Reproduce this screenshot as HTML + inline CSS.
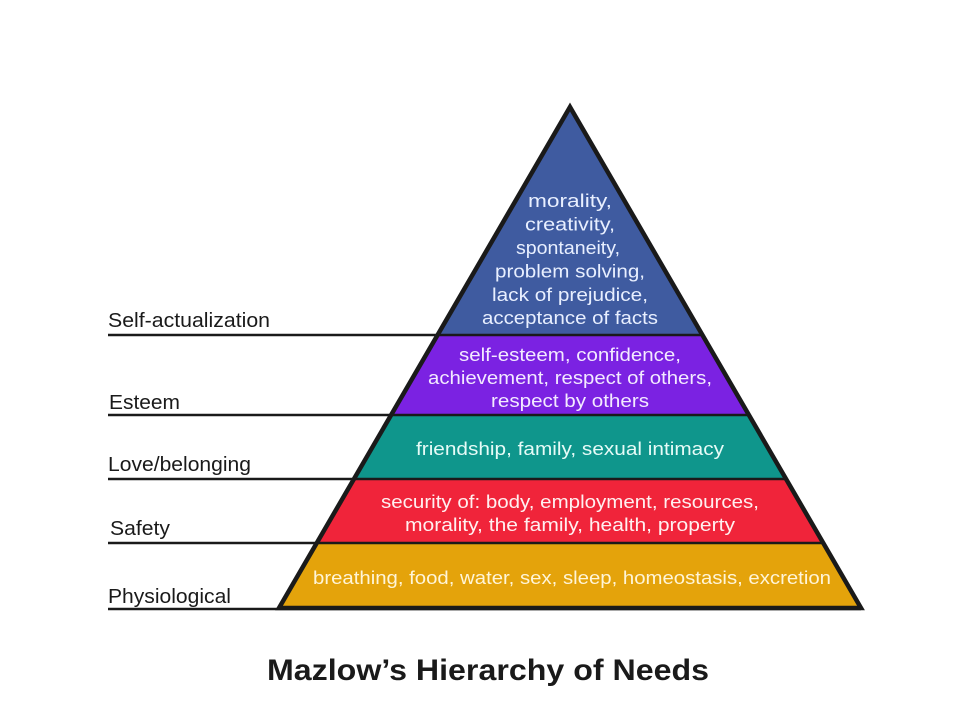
<!DOCTYPE html>
<html><head><meta charset="utf-8"><style>
html,body{margin:0;padding:0;background:#fff;width:960px;height:720px;overflow:hidden}
svg{display:block}
.t{font-family:"Liberation Sans",sans-serif;font-size:18px;text-anchor:middle}
.l{font-family:"Liberation Sans",sans-serif;font-size:20.5px;fill:#1a1a1a}
</style></head><body>
<svg width="960" height="720" viewBox="0 0 960 720">
<polygon points="570,107 702,335 438,335" fill="#3f5ba0"/>
<polygon points="438,335 702,335 749,415 391,415" fill="#7b22e2"/>
<polygon points="391,415 749,415 786,479 354,479" fill="#0f968c"/>
<polygon points="354,479 786,479 823,543 317,543" fill="#f0243a"/>
<polygon points="317,543 823,543 861,608 279,608" fill="#e4a30b"/>
<g stroke="#1a1a1a" stroke-width="2.5">
<line x1="108" y1="335" x2="702" y2="335"/>
<line x1="108" y1="415" x2="749" y2="415"/>
<line x1="108" y1="479" x2="786" y2="479"/>
<line x1="108" y1="543" x2="823" y2="543"/>
<line x1="108" y1="609" x2="861" y2="609"/>
</g>
<polygon points="570,107 861,608 279,608" fill="none" stroke="#1a1a1a" stroke-width="4.5" stroke-linejoin="miter"/>
<g class="t" fill="#e8efff">
<text x="570" y="207" textLength="84" lengthAdjust="spacingAndGlyphs">morality,</text>
<text x="570" y="230.5" textLength="90" lengthAdjust="spacingAndGlyphs">creativity,</text>
<text x="568" y="254" textLength="104" lengthAdjust="spacingAndGlyphs">spontaneity,</text>
<text x="570" y="277.5" textLength="150" lengthAdjust="spacingAndGlyphs">problem solving,</text>
<text x="570" y="301" textLength="156" lengthAdjust="spacingAndGlyphs">lack of prejudice,</text>
<text x="570" y="324" textLength="176" lengthAdjust="spacingAndGlyphs">acceptance of facts</text>
</g>
<g class="t" fill="#f3eaff">
<text x="570" y="361" textLength="222" lengthAdjust="spacingAndGlyphs">self-esteem, confidence,</text>
<text x="570" y="384" textLength="284" lengthAdjust="spacingAndGlyphs">achievement, respect of others,</text>
<text x="570" y="407" textLength="158" lengthAdjust="spacingAndGlyphs">respect by others</text>
</g>
<text class="t" x="570" y="455" fill="#e6fbf7" textLength="308" lengthAdjust="spacingAndGlyphs">friendship, family, sexual intimacy</text>
<g class="t" fill="#fff0f0">
<text x="570" y="508" textLength="378" lengthAdjust="spacingAndGlyphs">security of: body, employment, resources,</text>
<text x="570" y="531" textLength="330" lengthAdjust="spacingAndGlyphs">morality, the family, health, property</text>
</g>
<text class="t" x="572" y="584" fill="#fff5d8" textLength="518" lengthAdjust="spacingAndGlyphs">breathing, food, water, sex, sleep, homeostasis, excretion</text>
<text class="l" x="108" y="327" textLength="162" lengthAdjust="spacingAndGlyphs">Self-actualization</text>
<text class="l" x="109" y="409" textLength="71" lengthAdjust="spacingAndGlyphs">Esteem</text>
<text class="l" x="108" y="471" textLength="143" lengthAdjust="spacingAndGlyphs">Love/belonging</text>
<text class="l" x="110" y="535" textLength="60" lengthAdjust="spacingAndGlyphs">Safety</text>
<text class="l" x="108" y="603" textLength="123" lengthAdjust="spacingAndGlyphs">Physiological</text>
<text x="488" y="680" font-family="Liberation Sans,sans-serif" font-weight="bold" font-size="30" text-anchor="middle" fill="#1a1a1a" textLength="442" lengthAdjust="spacingAndGlyphs">Mazlow’s Hierarchy of Needs</text>
</svg>
</body></html>
